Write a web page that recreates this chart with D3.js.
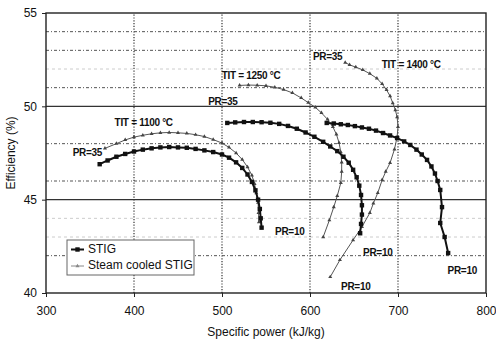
<!DOCTYPE html>
<html>
<head>
<meta charset="utf-8">
<script src="https://cdn.jsdelivr.net/npm/d3@7"></script>
<style>
  body { margin: 0; background: #fff; }
  svg text { font-family: "Liberation Sans", Arial, sans-serif; fill: #111; }
</style>
</head>
<body>
<div id="chart"></div>
<script>
// ---- data ----
const xTicks = [300, 400, 500, 600, 700, 800];
const yTicks = [40, 45, 50, 55];
const gridDark = [42, 46, 48, 51, 53, 54];
const gridFaint = [43, 44, 52];

// STIG (solid, squares)
const stig1100 = [[361,46.9],[370,47.1],[380,47.3],[390,47.45],[400,47.58],[410,47.68],[420,47.75],[430,47.8],[440,47.82],[450,47.8],[460,47.78],[470,47.72],[480,47.64],[490,47.55],[500,47.42],[508,47.25],[516,47.0],[523,46.7],[529,46.35],[534,45.95],[538,45.5],[541,45.0],[543,44.5],[544,44.0],[545,43.5]];
const stig1250 = [[506,49.11],[515,49.14],[525,49.16],[535,49.16],[545,49.15],[555,49.12],[565,49.06],[575,48.95],[585,48.8],[595,48.6],[605,48.37],[615,48.1],[623,47.85],[631,47.6],[638,47.3],[644,46.98],[649,46.6],[653,46.2],[656,45.75],[658,45.25],[659,44.7],[659,44.2],[658,43.7],[657,43.2]];
const stig1400 = [[619,49.11],[627,49.08],[635,49.04],[643,49.0],[651,48.94],[659,48.87],[667,48.8],[675,48.7],[683,48.57],[691,48.44],[699,48.3],[707,48.12],[714,47.93],[721,47.68],[727,47.42],[733,47.13],[738,46.78],[742,46.4],[745,46.0],[748,45.52],[750,44.6],[748,43.75],[753,43.0],[757,42.14]];

// Steam cooled STIG (thin, triangles)
const cool1100 = [[367,47.75],[380,48.0],[390,48.2],[400,48.35],[410,48.45],[420,48.53],[430,48.58],[440,48.6],[450,48.58],[460,48.55],[470,48.48],[480,48.38],[490,48.22],[500,48.03],[508,47.8],[516,47.5],[523,47.15],[529,46.75],[534,46.3],[537,45.85],[539,45.35],[541,44.85],[541.5,44.3],[542,43.8]];
const cool1250 = [[520,51.12],[530,51.14],[540,51.13],[550,51.1],[560,51.02],[570,50.9],[580,50.72],[590,50.45],[598,50.2],[606,49.95],[613,49.65],[620,49.3],[626,48.9],[630,48.5],[633,48.05],[635,47.55],[636,47.0],[636,46.5],[635,45.9],[631,45.2],[627,44.6],[622,43.9],[615,43.0]];
const cool1400 = [[640,52.35],[645,52.22],[652,52.1],[660,51.95],[668,51.75],[676,51.5],[682,51.2],[687,50.88],[691,50.55],[694,50.18],[697,49.8],[699,49.43],[700,48.9],[699,48.36],[696,47.7],[691,46.97],[686,46.5],[682,46.06],[677,45.36],[672,44.8],[668,44.29],[659,43.54],[649,42.84],[634,41.77],[623,40.86]];

const stigSeries = [stig1100, stig1250, stig1400];
const coolSeries = [cool1100, cool1250, cool1400];

const labels = [
  { text: 'TIT = 1100 °C', x: 411, y: 49.1 },
  { text: 'PR=35', x: 347, y: 47.5 },
  { text: 'TIT = 1250 °C', x: 533, y: 51.6 },
  { text: 'PR=35', x: 501, y: 50.23 },
  { text: 'TIT = 1400 °C', x: 715, y: 52.2 },
  { text: 'PR=35', x: 620, y: 52.6 },
  { text: 'PR=10', x: 577, y: 43.27 },
  { text: 'PR=10', x: 677, y: 42.1 },
  { text: 'PR=10', x: 773, y: 41.18 },
  { text: 'PR=10', x: 652, y: 40.32 }
];

// ---- layout ----
const width = 496, height = 340;
const margin = { top: 13, right: 10, bottom: 47, left: 46 };

const svg = d3.select('#chart').append('svg')
  .attr('width', width)
  .attr('height', height);

const x = d3.scaleLinear().domain([300, 800]).range([margin.left, width - margin.right]);
const y = d3.scaleLinear().domain([40, 55]).range([height - margin.bottom, margin.top]);

// minor horizontal grid
svg.append('g').selectAll('line')
  .data(gridDark).enter().append('line')
  .attr('x1', x(300)).attr('x2', x(800))
  .attr('y1', d => y(d)).attr('y2', d => y(d))
  .attr('stroke', '#555').attr('stroke-width', 1)
  .attr('stroke-dasharray', '3,2,1,2');

svg.append('g').selectAll('line')
  .data(gridFaint).enter().append('line')
  .attr('x1', x(300)).attr('x2', x(800))
  .attr('y1', d => y(d)).attr('y2', d => y(d))
  .attr('stroke', '#ccc').attr('stroke-width', 1)
  .attr('stroke-dasharray', '3,3');

// major horizontal grid (solid)
svg.append('g').selectAll('line')
  .data(yTicks.slice(1, -1)).enter().append('line')
  .attr('x1', x(300)).attr('x2', x(800))
  .attr('y1', d => y(d)).attr('y2', d => y(d))
  .attr('stroke', '#333').attr('stroke-width', 1.2);

// vertical grid (dotted)
svg.append('g').selectAll('line')
  .data(xTicks.slice(1, -1)).enter().append('line')
  .attr('x1', d => x(d)).attr('x2', d => x(d))
  .attr('y1', y(40)).attr('y2', y(55))
  .attr('stroke', '#333').attr('stroke-width', 1.2)
  .attr('stroke-dasharray', '1.2,1.6');

// axes
svg.append('g')
  .attr('transform', `translate(0,${y(40)})`)
  .call(d3.axisBottom(x).tickValues(xTicks).tickSize(4).tickPadding(9))
  .call(g => g.select('.domain').remove())
  .call(g => g.selectAll('.tick line').attr('stroke', '#222'))
  .call(g => g.selectAll('text').attr('font-size', 12).attr('font-family', '"Liberation Sans", Arial, sans-serif'));

svg.append('g')
  .attr('transform', `translate(${x(300)},0)`)
  .call(d3.axisLeft(y).tickValues(yTicks).tickSize(4).tickPadding(5))
  .call(g => g.select('.domain').remove())
  .call(g => g.selectAll('.tick line').attr('stroke', '#222'))
  .call(g => g.selectAll('text').attr('font-size', 12).attr('font-family', '"Liberation Sans", Arial, sans-serif'));

// frame
svg.append('rect')
  .attr('x', x(300)).attr('y', y(55))
  .attr('width', x(800) - x(300)).attr('height', y(40) - y(55))
  .attr('fill', 'none').attr('stroke', '#222').attr('stroke-width', 1.4);

// axis titles
svg.append('text')
  .attr('x', (x(300) + x(800)) / 2).attr('y', 336)
  .attr('text-anchor', 'middle').attr('font-size', 12)
  .text('Specific power (kJ/kg)');

svg.append('text')
  .attr('transform', `translate(15,${(y(40) + y(55)) / 2}) rotate(-90)`)
  .attr('text-anchor', 'middle').attr('font-size', 12)
  .text('Efficiency (%)');

const line = d3.line().x(d => x(d[0])).y(d => y(d[1]));
const tri = d3.symbol().type(d3.symbolTriangle).size(7);

// steam cooled curves
coolSeries.forEach(s => {
  svg.append('path').datum(s)
    .attr('fill', 'none').attr('stroke', '#555').attr('stroke-width', 1)
    .attr('d', line);
  svg.append('g').selectAll('path')
    .data(s).enter().append('path')
    .attr('d', tri)
    .attr('transform', d => `translate(${x(d[0])},${y(d[1])})`)
    .attr('fill', '#444');
});

// STIG curves
stigSeries.forEach(s => {
  svg.append('path').datum(s)
    .attr('fill', 'none').attr('stroke', '#111').attr('stroke-width', 2)
    .attr('d', line);
  svg.append('g').selectAll('rect')
    .data(s).enter().append('rect')
    .attr('x', d => x(d[0]) - 2.2).attr('y', d => y(d[1]) - 2.2)
    .attr('width', 4.4).attr('height', 4.4)
    .attr('fill', '#111');
});

// annotations
svg.append('g').selectAll('text')
  .data(labels).enter().append('text')
  .attr('x', d => x(d.x)).attr('y', d => y(d.y))
  .attr('text-anchor', 'middle')
  .attr('dominant-baseline', 'middle')
  .attr('font-size', 10).attr('font-weight', 'bold')
  .attr('letter-spacing', -0.3)
  .text(d => d.text);

// legend
const lg = svg.append('g').attr('transform', 'translate(67,240)');
lg.append('rect')
  .attr('width', 127).attr('height', 35)
  .attr('fill', '#fff').attr('stroke', '#666').attr('stroke-width', 1);
lg.append('line').attr('x1', 4).attr('x2', 17).attr('y1', 9.5).attr('y2', 9.5)
  .attr('stroke', '#111').attr('stroke-width', 2);
lg.append('rect').attr('x', 8.3).attr('y', 7.3).attr('width', 4.4).attr('height', 4.4).attr('fill', '#111');
lg.append('text').attr('x', 21).attr('y', 9.5).attr('dominant-baseline', 'middle')
  .attr('font-size', 12).text('STIG');
lg.append('line').attr('x1', 4).attr('x2', 17).attr('y1', 26).attr('y2', 26)
  .attr('stroke', '#888').attr('stroke-width', 1);
lg.append('path').attr('d', tri).attr('transform', 'translate(10.5,26)').attr('fill', '#888');
lg.append('text').attr('x', 21).attr('y', 26).attr('dominant-baseline', 'middle')
  .attr('font-size', 12).text('Steam cooled STIG');
</script>
</body>
</html>
